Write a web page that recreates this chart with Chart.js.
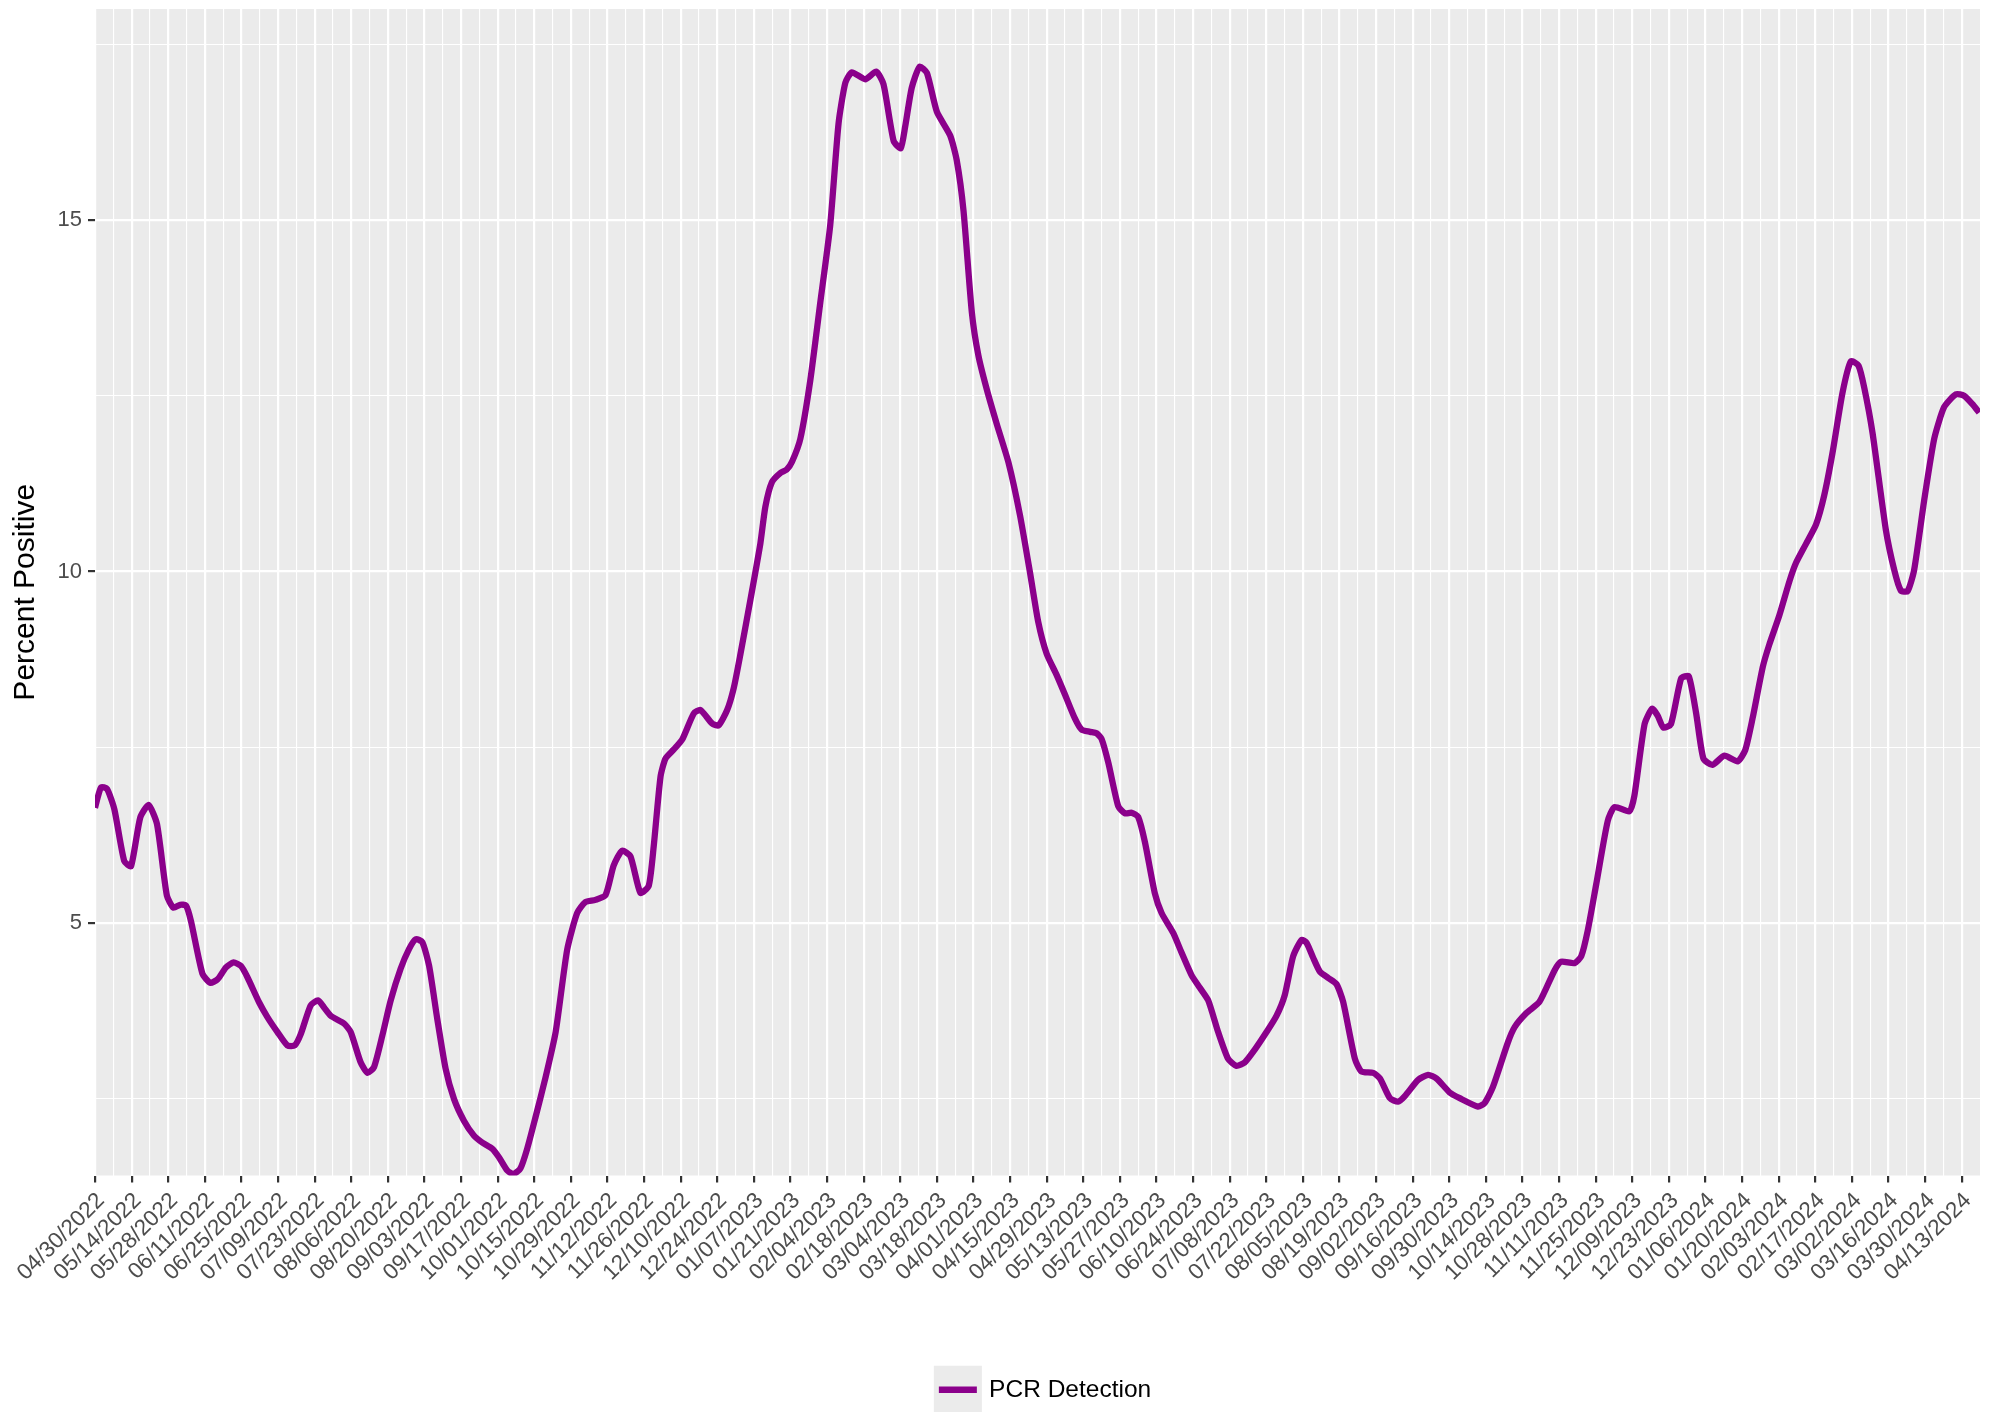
<!DOCTYPE html>
<html>
<head>
<meta charset="utf-8">
<title>PCR Detection - Percent Positive</title>
<script src="https://cdn.jsdelivr.net/npm/chart.js@4.4.0/dist/chart.umd.min.js"></script>
<style>
    html, body { margin: 0; padding: 0; background: #FFFFFF; }
    #div_container { width: 1997px; height: 1412px; }
</style>
</head>
<body>
<div id="div_container"><canvas id="lineChartID" width="1997" height="1412"></canvas></div>
<script>
// days since 04/30/2022 and the percent positive read at each of them
const dayOffsets = [
    0, 2.3, 4.6, 7.4, 11.2, 13.8, 17.3, 20.5, 23.7, 27.5, 30, 32.6, 34.8, 36.7, 41.1, 44.1, 46.9, 50.1, 53, 55.8,
    58.3, 62.8, 66, 69.8, 73.6, 76.4, 78.7, 82.5, 85.3, 87.6, 90.2, 95.3, 97.8, 101.6, 104.2, 106.7, 109.9, 113.1, 116.9, 120.1,
    122.7, 125.2, 127.8, 130.9, 134.1, 137.3, 141.1, 144.9, 148.1, 152, 154.5, 157.7, 160, 162.7, 165.3, 168.5, 172.3, 176.2, 180.6, 184.4,
    187.6, 191.4, 195.3, 198.4, 201.6, 204.8, 208.6, 211.8, 213.7, 216.3, 218.2, 221.4, 224.6, 229, 231.6, 236, 238.5, 241.8, 244.3, 246.8,
    250.7, 254.5, 256.4, 258.9, 262.1, 264.6, 266.6, 269.8, 273.6, 277.4, 281.2, 284.4, 287, 289.5, 294.6, 298.8, 301.6, 305.5, 308.2, 309.9,
    312.4, 315.4, 318.2, 322, 327.1, 329.6, 332.2, 335.4, 337.9, 341.1, 344.9, 349.4, 353.8, 357.7, 360.8, 364, 367.8, 371, 374.8, 377.4,
    380.6, 383.1, 385, 387.6, 391.4, 394, 396.5, 399, 401.6, 405.4, 408, 412.4, 415.6, 419.4, 422.6, 425.8, 429.6, 433.4, 436.6, 439.8,
    443.6, 448.1, 451.9, 455.1, 458.3, 461.5, 463.4, 465.9, 468.5, 471.7, 474.9, 477.4, 481.9, 484.4, 488.9, 491.5, 495.3, 498.4, 501, 506.1,
    509.9, 513.1, 518.2, 522, 529, 531.5, 534.7, 540.4, 543, 547.5, 552.5, 558.3, 560.8, 565.9, 568.5, 571, 574.2, 578.6, 581.2, 586.9,
    588.8, 592.7, 595.6, 597.7, 599.9, 602.8, 606.7, 609.6, 612.4, 615.2, 618.7, 623.2, 628.3, 631.2, 634, 637.9, 640.4, 644.2, 648.1, 650.6,
    654.4, 658.3, 661.4, 664.6, 668.4, 671.6, 674.5, 676.7, 679.9, 685, 688.2, 690.7, 693.3, 695.8, 699.6, 703.5, 707.3, 711.8, 714.9, 718.1,
    720.7
];
const percentPositive = [
    6.64, 6.93, 6.91, 6.62, 5.88, 5.81, 6.50, 6.68, 6.41, 5.39, 5.22, 5.26, 5.25, 5.03, 4.28, 4.15, 4.20, 4.37, 4.44, 4.39,
    4.23, 3.87, 3.66, 3.45, 3.26, 3.26, 3.42, 3.83, 3.90, 3.80, 3.68, 3.57, 3.45, 3.02, 2.87, 2.95, 3.40, 3.90, 4.35, 4.63,
    4.77, 4.73, 4.39, 3.64, 2.93, 2.50, 2.19, 1.98, 1.88, 1.79, 1.67, 1.48, 1.43, 1.51, 1.79, 2.24, 2.80, 3.45, 4.62, 5.14,
    5.30, 5.33, 5.40, 5.82, 6.03, 5.95, 5.43, 5.53, 6.09, 7.08, 7.34, 7.47, 7.61, 7.98, 8.03, 7.84, 7.81, 8.03, 8.34, 8.81,
    9.60, 10.40, 10.92, 11.27, 11.40, 11.45, 11.56, 11.89, 12.72, 13.82, 14.92, 16.37, 16.95, 17.10, 17.00, 17.11, 16.93, 16.12, 16.02, 16.33,
    16.88, 17.18, 17.09, 16.54, 16.20, 15.85, 15.13, 13.68, 13.07, 12.59, 12.10, 11.55, 10.80, 9.97, 9.28, 8.83, 8.53, 8.25, 7.91, 7.75,
    7.72, 7.70, 7.62, 7.28, 6.66, 6.56, 6.57, 6.51, 6.15, 5.42, 5.14, 4.86, 4.58, 4.26, 4.08, 3.90, 3.45, 3.07, 2.97, 3.02,
    3.20, 3.45, 3.68, 3.98, 4.53, 4.76, 4.72, 4.51, 4.31, 4.22, 4.13, 3.88, 3.07, 2.89, 2.87, 2.79, 2.51, 2.46, 2.54, 2.77,
    2.84, 2.79, 2.59, 2.51, 2.39, 2.44, 2.67, 3.30, 3.52, 3.72, 3.88, 4.33, 4.45, 4.43, 4.53, 4.90, 5.55, 6.45, 6.65, 6.59,
    6.81, 7.83, 8.05, 7.95, 7.78, 7.83, 8.48, 8.51, 7.99, 7.34, 7.25, 7.38, 7.30, 7.46, 7.91, 8.64, 8.96, 9.37, 9.86, 10.12,
    10.39, 10.67, 11.08, 11.69, 12.54, 12.99, 12.93, 12.62, 11.97, 10.59, 10.02, 9.73, 9.72, 10.02, 11.00, 11.89, 12.34, 12.52, 12.50, 12.38,
    12.26
];
const tickLabels = [
    '04/30/2022', '05/14/2022', '05/28/2022', '06/11/2022', '06/25/2022', '07/09/2022', '07/23/2022', '08/06/2022', '08/20/2022',
    '09/03/2022', '09/17/2022', '10/01/2022', '10/15/2022', '10/29/2022', '11/12/2022', '11/26/2022', '12/10/2022', '12/24/2022',
    '01/07/2023', '01/21/2023', '02/04/2023', '02/18/2023', '03/04/2023', '03/18/2023', '04/01/2023', '04/15/2023', '04/29/2023',
    '05/13/2023', '05/27/2023', '06/10/2023', '06/24/2023', '07/08/2023', '07/22/2023', '08/05/2023', '08/19/2023', '09/02/2023',
    '09/16/2023', '09/30/2023', '10/14/2023', '10/28/2023', '11/11/2023', '11/25/2023', '12/09/2023', '12/23/2023', '01/06/2024',
    '01/20/2024', '02/03/2024', '02/17/2024', '03/02/2024', '03/16/2024', '03/30/2024', '04/13/2024'
];
const yTickValues = [2.5, 5, 7.5, 10, 12.5, 15, 17.5];
const yLabelValues = [5, 10, 15];
const seriesName = 'PCR Detection';
const lineColor = '#8B008B';

// a break every 7 days, labelled every 14
const weekTicks = [];
for (let d = 0; d <= (tickLabels.length - 1) * 14; d += 7) {
    weekTicks.push(d);
}

function isLabelledDay(value) {
    return value % 14 === 0;
}

const panelBackground = {
    id: 'panelBackground',
    afterLayout: function (chart) {
        // centre the legend under the panel, as ggplot does
        chart.legend.left += 55;
        chart.legend.right += 55;
    },
    beforeDraw: function (chart) {
        const ctx = chart.ctx;
        const area = chart.chartArea;
        ctx.save();
        ctx.fillStyle = '#EBEBEB';
        ctx.fillRect(area.left, area.top, area.right - area.left, area.bottom - area.top);

        const boxes = chart.legend.legendHitBoxes;
        if (boxes && boxes.length) {
            const cx = boxes[0].left + 19;
            const cy = boxes[0].top + boxes[0].height / 2;
            ctx.fillRect(cx - 24, cy - 24, 48, 48);
        }
        ctx.restore();
    }
};

const chartInstance = new Chart(document.getElementById('lineChartID'), {
    type: 'line',
    data: {
        datasets: [{
            label: seriesName,
            data: dayOffsets.map((d, i) => ({ x: d, y: percentPositive[i] })),
            borderColor: lineColor,
            backgroundColor: lineColor,
            borderWidth: 6.3,
            pointRadius: 0,
            fill: false,
            tension: 0.2,
            clip: 0
        }]
    },
    options: {
        responsive: false,
        animation: false,
        devicePixelRatio: 1,
        layout: {
            padding: { top: 9, right: 17, bottom: 0, left: 0 }
        },
        plugins: {
            legend: {
                position: 'bottom',
                labels: {
                    usePointStyle: true,
                    pointStyle: 'line',
                    pointStyleWidth: 38,
                    color: '#000000',
                    padding: 10,
                    font: { family: 'Liberation Sans', size: 24.5 }
                }
            },
            tooltip: { enabled: false }
        },
        scales: {
            x: {
                type: 'linear',
                min: 0,
                max: 721,
                afterBuildTicks: function (scale) {
                    scale.ticks = weekTicks.map(v => ({ value: v }));
                },
                afterFit: function (scale) {
                    scale.height = 192;
                    scale.paddingLeft = 0;
                    scale.paddingRight = 0;
                },
                ticks: {
                    autoSkip: false,
                    minRotation: 45,
                    maxRotation: 45,
                    padding: 5,
                    labelOffset: 6,
                    color: '#4D4D4D',
                    font: { family: 'Liberation Sans', size: 22.5 },
                    callback: function (value) {
                        return isLabelledDay(value) ? tickLabels[value / 14] : '';
                    }
                },
                grid: {
                    color: '#FFFFFF',
                    lineWidth: ctx => (ctx.tick && isLabelledDay(ctx.tick.value)) ? 2.2 : 1.1,
                    tickColor: ctx => (ctx.tick && isLabelledDay(ctx.tick.value)) ? '#333333' : 'rgba(0,0,0,0)',
                    tickLength: 7,
                    tickWidth: 2.2
                },
                border: { display: false }
            },
            y: {
                min: 1.41,
                max: 18.0,
                afterBuildTicks: function (scale) {
                    scale.ticks = yTickValues.map(v => ({ value: v }));
                },
                afterFit: function (scale) {
                    scale.width = 95;
                    scale.paddingTop = 0;
                    scale.paddingBottom = 0;
                },
                ticks: {
                    padding: 6,
                    color: '#4D4D4D',
                    font: { family: 'Liberation Sans', size: 22 },
                    callback: function (value) {
                        return yLabelValues.includes(value) ? String(value) : '';
                    }
                },
                grid: {
                    color: '#FFFFFF',
                    lineWidth: ctx => (ctx.tick && yLabelValues.includes(ctx.tick.value)) ? 2.2 : 1.1,
                    tickColor: ctx => (ctx.tick && yLabelValues.includes(ctx.tick.value)) ? '#333333' : 'rgba(0,0,0,0)',
                    tickLength: 7,
                    tickWidth: 2.2
                },
                border: { display: false },
                title: {
                    display: true,
                    text: 'Percent Positive',
                    color: '#000000',
                    font: { family: 'Liberation Sans', size: 30 },
                    padding: { top: 8, bottom: 0 }
                }
            }
        }
    },
    plugins: [panelBackground]
});
</script>
</body>
</html>
